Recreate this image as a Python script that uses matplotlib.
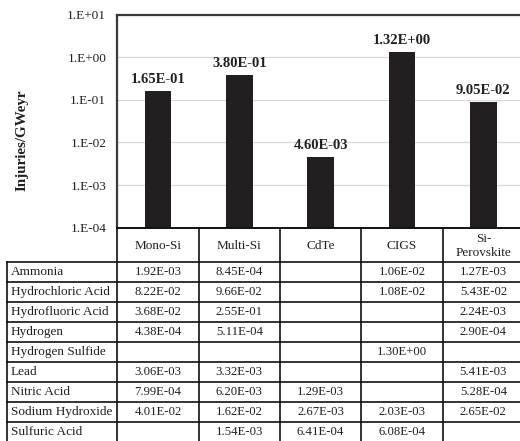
import matplotlib
matplotlib.use("Agg")
import matplotlib.pyplot as plt
from matplotlib.ticker import NullLocator
import numpy as np

# ---- data ----
technologies = ["Mono-Si", "Multi-Si", "CdTe", "CIGS", "Si-\nPerovskite"]
totals = [1.65e-01, 3.80e-01, 4.60e-03, 1.32e+00, 9.05e-02]
y_ticks = [1e-4, 1e-3, 1e-2, 1e-1, 1e0, 1e1]
y_tick_labels = ["1.E-04", "1.E-03", "1.E-02", "1.E-01", "1.E+00", "1.E+01"]
chemicals = ["Ammonia", "Hydrochloric Acid", "Hydrofluoric Acid", "Hydrogen",
             "Hydrogen Sulfide", "Lead", "Nitric Acid", "Sodium Hydroxide",
             "Sulfuric Acid"]
mono_si = ["1.92E-03", "8.22E-02", "3.68E-02", "4.38E-04", "", "3.06E-03", "7.99E-04", "4.01E-02", ""]
multi_si = ["8.45E-04", "9.66E-02", "2.55E-01", "5.11E-04", "", "3.32E-03", "6.20E-03", "1.62E-02", "1.54E-03"]
cdte = ["", "", "", "", "", "", "1.29E-03", "2.67E-03", "6.41E-04"]
cigs = ["1.06E-02", "1.08E-02", "", "", "1.30E+00", "", "", "2.03E-03", "6.08E-04"]
si_perovskite = ["1.27E-03", "5.43E-02", "2.24E-03", "2.90E-04", "", "5.41E-03", "5.28E-04", "2.65E-02", ""]
table_cols = [mono_si, multi_si, cdte, cigs, si_perovskite]

plt.rcParams['font.family'] = ['Liberation Serif', 'DejaVu Serif']

W, H = 520, 441
fig = plt.figure(figsize=(W / 100, H / 100), dpi=100)

ax_left, ax_right, ax_top, ax_bottom = 117.3, 524.0, 14.5, 227.7
ax = fig.add_axes([ax_left / W, 1 - ax_bottom / H, (ax_right - ax_left) / W, (ax_bottom - ax_top) / H])
x = np.arange(len(technologies))
ax.bar(x, totals, width=0.33, color='#231f20', zorder=3)
ax.set_yscale('log')
ax.set_ylim(1e-4, 1e1)
ax.set_xlim(-0.5, len(technologies) - 0.5)
ax.set_yticks(y_ticks)
ax.set_yticklabels(y_tick_labels, fontsize=9.5, color='#231f20')
ax.yaxis.set_minor_locator(NullLocator())
ax.tick_params(axis='y', length=0, pad=8)
ax.set_xticks([])
ax.grid(axis='y', color='#d9d9d9', lw=0.9, zorder=0)
ax.set_axisbelow(True)
for s in ['top', 'left']:
    ax.spines[s].set_color('#3a3a3a')
    ax.spines[s].set_linewidth(1.6)
ax.spines['right'].set_visible(False)
ax.spines['bottom'].set_color('#111111')
ax.spines['bottom'].set_linewidth(1.2)

for i, v in enumerate(totals):
    ax.annotate(f"{v:.2E}", (i, v), xytext=(0, 5.5), textcoords='offset points',
                ha='center', va='baseline', fontsize=10.5, fontweight='bold', color='#231f20')

fig.text(22 / W, 1 - 140 / H, "Injuries/GWeyr", rotation=90, ha='center', va='center',
         fontsize=10.8, fontweight='bold', color='#231f20')

# ---- table ----
tab = fig.add_axes([0, 0, 1, 1], zorder=5)
tab.set_xlim(0, W)
tab.set_ylim(H, 0)
tab.axis('off')

edges = [ax.transData.transform((i - 0.5, 1))[0] for i in range(len(technologies) + 1)]
centers = [(edges[i] + edges[i + 1]) / 2 for i in range(len(technologies))]
tbl_left = 7.3
head_top = ax_bottom
head_bot = 261.7
row_h = 20.0
n = len(chemicals)
bottom = head_bot + n * row_h
lc = '#111111'
lw = 1.2

tab.plot([edges[0], edges[-1]], [head_top, head_top], color=lc, lw=lw)
for r in range(n + 1):
    yy = head_bot + r * row_h
    tab.plot([tbl_left, edges[-1]], [yy, yy], color=lc, lw=lw)
tab.plot([tbl_left, tbl_left], [head_bot, bottom], color=lc, lw=lw)
for e in edges:
    tab.plot([e, e], [head_top, bottom], color=lc, lw=lw)

for c, name in zip(centers, technologies):
    tab.text(c, (head_top + head_bot) / 2 + 1.0, name, ha='center', va='center',
             fontsize=9.5, color='#231f20', linespacing=1.2)

for r, chem in enumerate(chemicals):
    yc = head_bot + (r + 0.5) * row_h
    tab.text(tbl_left + 3.5, yc, chem, ha='left', va='center', fontsize=9.5, color='#231f20')
    for c, col in zip(centers, table_cols):
        if col[r]:
            tab.text(c, yc, col[r], ha='center', va='center', fontsize=9.2, color='#231f20')

fig.savefig("out.png", dpi=100)
